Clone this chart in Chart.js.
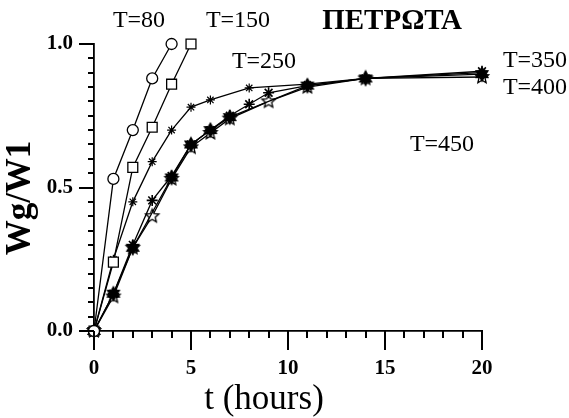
<!DOCTYPE html>
<html>
<head>
<meta charset="utf-8">
<script src="https://cdn.jsdelivr.net/npm/chart.js@4/dist/chart.umd.min.js"></script>
<style>
  html, body { margin: 0; padding: 0; background: #fff; }
  #c { display: block; }
</style>
</head>
<body>
<canvas id="c" width="569" height="418"></canvas>
<script>
// ---- data ----
const t80  = [0, 1, 2, 3, 4];
const v80  = [0, 0.53, 0.70, 0.88, 1.0];
const t150 = [0, 1, 2, 3, 4, 5];
const v150 = [0, 0.24, 0.57, 0.71, 0.86, 1.0];
const t250 = [0, 1, 2, 3, 4, 5, 6, 8, 11, 14, 20];
const v250 = [0, 0.25, 0.45, 0.59, 0.70, 0.78, 0.805, 0.847, 0.86, 0.88, 0.90];
const t350 = [0, 1, 2, 3, 4, 5, 6, 7, 8, 9, 11, 14, 20];
const v350 = [0, 0.13, 0.30, 0.455, 0.54, 0.65, 0.70, 0.75, 0.79, 0.83, 0.855, 0.88, 0.905];
const t400 = [0, 1, 2, 4, 5, 6, 7, 11, 14, 20];
const v400 = [0, 0.13, 0.29, 0.535, 0.65, 0.70, 0.745, 0.855, 0.88, 0.895];
const t450 = [0, 1, 2, 3, 4, 5, 6, 7, 9, 11, 14, 20];
const v450 = [0, 0.12, 0.29, 0.40, 0.53, 0.64, 0.69, 0.74, 0.80, 0.85, 0.88, 0.885];

const xMajorTicks = [0, 5, 10, 15, 20];
const xMinorTicks = [1, 2, 3, 4, 6, 7, 8, 9, 11, 12, 13, 14, 16, 17, 18, 19];
const yMajorTicks = [0, 0.5, 1.0];
const yMinorTicks = [0.05, 0.1, 0.15, 0.2, 0.25, 0.3, 0.35, 0.4, 0.45, 0.55, 0.6, 0.65, 0.7, 0.75, 0.8, 0.85, 0.9, 0.95];
const yTickLabels = ['0.0', '0.5', '1.0'];
const title = 'ΠΕΤΡΩΤΑ';
const xTitle = 't (hours)';
const yTitle = 'Wg/W1';
const seriesNames = ['T=80', 'T=150', 'T=250', 'T=350', 'T=400', 'T=450'];

function pts(ts, vs) { return ts.map((t, i) => ({ x: t, y: vs[i] })); }

// custom marker canvases
function starCanvas(n, rOut, rIn, filled, lw) {
  const s = Math.ceil(rOut * 2 + 4);
  const cv = document.createElement('canvas');
  cv.width = s; cv.height = s;
  const g = cv.getContext('2d');
  g.translate(s / 2, s / 2);
  g.beginPath();
  for (let i = 0; i < n * 2; i++) {
    const r = i % 2 === 0 ? rOut : rIn;
    const a = -Math.PI / 2 + i * Math.PI / n;
    const px = r * Math.cos(a), py = r * Math.sin(a);
    if (i === 0) g.moveTo(px, py); else g.lineTo(px, py);
  }
  g.closePath();
  g.fillStyle = filled ? '#000' : '#fff';
  g.fill();
  g.lineWidth = lw;
  g.strokeStyle = '#000';
  g.stroke();
  return cv;
}
const filledStar = starCanvas(6, 7, 4, true, 1.2);
const openStar = starCanvas(5, 7, 3.2, false, 1.3);

const serif = '"Liberation Serif", "DejaVu Serif", serif';

const base = { borderColor: '#000', borderWidth: 1.3, pointBorderColor: '#000',
  pointBackgroundColor: '#fff', tension: 0, showLine: true, clip: false };

const datasets = [
  Object.assign({}, base, { label: seriesNames[0], data: pts(t80, v80), pointStyle: 'circle', pointRadius: 5.5, pointBorderWidth: 1.3 }),
  Object.assign({}, base, { label: seriesNames[1], data: pts(t150, v150), pointStyle: 'rect', pointRadius: 7, pointBorderWidth: 1.3 }),
  Object.assign({}, base, { label: seriesNames[2], data: pts(t250, v250), pointStyle: 'star', pointRadius: 4.5, pointBorderWidth: 1.2 }),
  Object.assign({}, base, { label: seriesNames[3], data: pts(t350, v350), pointStyle: 'star', pointRadius: 5.5, pointBorderWidth: 1.6 }),
  Object.assign({}, base, { label: seriesNames[4], data: pts(t400, v400), pointStyle: filledStar }),
  Object.assign({}, base, { label: seriesNames[5], data: pts(t450, v450), pointStyle: openStar })
];

const annot = {
  id: 'annot',
  afterDraw(chart) {
    const c = chart.ctx;
    const xs = chart.scales.x, ys = chart.scales.y;
    const x0 = chart.chartArea.left, y0 = chart.chartArea.bottom;
    c.save();
    c.strokeStyle = '#000';
    c.lineCap = 'butt';
    c.lineWidth = 2;
    const xTick = (v, len) => {
      const px = Math.round(xs.getPixelForValue(v));
      c.beginPath(); c.moveTo(px, y0); c.lineTo(px, y0 + len); c.stroke();
    };
    const yTick = (v, len) => {
      const py = Math.round(ys.getPixelForValue(v));
      c.beginPath(); c.moveTo(x0, py); c.lineTo(x0 - len, py); c.stroke();
    };
    xMinorTicks.forEach(v => xTick(v, 7));
    xMajorTicks.forEach(v => xTick(v, 19));
    yMinorTicks.forEach(v => yTick(v, 6));
    yMajorTicks.forEach(v => yTick(v, 15));

    c.fillStyle = '#000';
    c.textAlign = 'center';
    c.textBaseline = 'middle';
    c.font = '24px ' + serif;
    const lab = (s, x, y) => c.fillText(s, x, y);
    lab(seriesNames[0], 139, 21);
    lab(seriesNames[1], 238, 21);
    lab(seriesNames[2], 264, 62);
    lab(seriesNames[3], 535, 61);
    lab(seriesNames[4], 535, 88);
    lab(seriesNames[5], 442, 145);
    c.font = 'bold 29px ' + serif;
    lab(title, 392, 22);
    c.font = '35px ' + serif;
    lab(xTitle, 264, 400);
    c.translate(21, 198);
    c.rotate(-Math.PI / 2);
    c.font = 'bold 35px ' + serif;
    lab(yTitle, 0, 0);
    c.restore();
  }
};

new Chart(document.getElementById('c'), {
  type: 'line',
  data: { datasets },
  options: {
    responsive: false,
    animation: false,
    layout: { padding: { top: 44, right: 87, left: 0, bottom: 0 } },
    plugins: { legend: { display: false }, tooltip: { enabled: false } },
    scales: {
      x: {
        type: 'linear', min: 0, max: 20,
        afterFit(s) { s.height = 87; },
        grid: { display: false, drawOnChartArea: false, drawTicks: false },
        border: { display: true, color: '#000', width: 1.8 },
        afterBuildTicks(s) { s.ticks = xMajorTicks.map(v => ({ value: v })); },
        ticks: {
          autoSkip: false, maxRotation: 0, padding: 25, color: '#000',
          font: { family: serif, size: 21, weight: 'bold' },
          callback: v => String(v)
        }
      },
      y: {
        type: 'linear', min: 0, max: 1,
        afterFit(s) { s.width = 94; },
        grid: { display: false, drawOnChartArea: false, drawTicks: false },
        border: { display: true, color: '#000', width: 1.8 },
        afterBuildTicks(s) { s.ticks = yMajorTicks.map(v => ({ value: v })); },
        ticks: {
          autoSkip: false, padding: 21, color: '#000',
          font: { family: serif, size: 21, weight: 'bold' },
          callback: v => {
            const i = yMajorTicks.findIndex(m => Math.abs(m - v) < 1e-6);
            return i >= 0 ? yTickLabels[i] : '';
          }
        }
      }
    }
  },
  plugins: [annot]
});
</script>
</body>
</html>
